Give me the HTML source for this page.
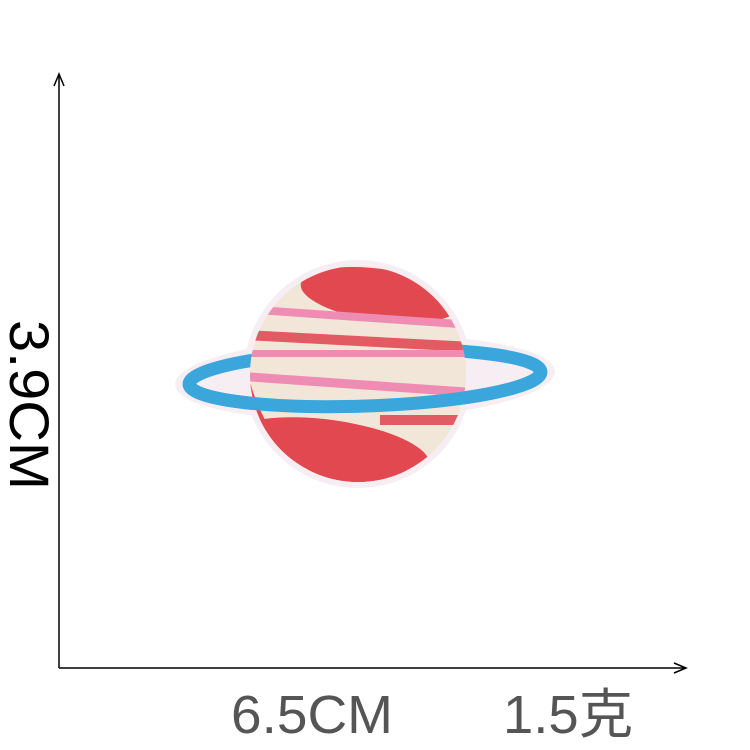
<!DOCTYPE html>
<html><head><meta charset="utf-8"><style>
html,body{margin:0;padding:0;background:#fff;width:750px;height:750px;overflow:hidden}
svg{display:block}
</style></head><body>
<svg width="750" height="750" viewBox="0 0 750 750">
<defs><clipPath id="pc"><circle cx="358" cy="374" r="108"/></clipPath></defs>
<g>
<line x1="59" y1="668" x2="59" y2="76" stroke="#000" stroke-width="1.5"/>
<path d="M54,86 L59,74 L64,86" fill="none" stroke="#000" stroke-width="1.5"/>
<line x1="59" y1="668" x2="684" y2="668" stroke="#000" stroke-width="1.5"/>
<path d="M674,663 L686,668 L674,673" fill="none" stroke="#000" stroke-width="1.5"/>
</g>
<g>
<ellipse cx="365" cy="378" rx="190" ry="42" fill="#f6eef2" transform="rotate(-2 365 378)"/>
<circle cx="358" cy="374" r="114" fill="#f6eef2"/>
<ellipse cx="365" cy="378" rx="176" ry="28" fill="none" stroke="#3aa6dc" stroke-width="13" transform="rotate(-2 365 378)"/>
<g clip-path="url(#pc)">
<rect x="240" y="260" width="240" height="230" fill="#f2e6d8"/>
<ellipse cx="380" cy="295" rx="80" ry="26" fill="#e2484f" transform="rotate(8 380 295)"/>
<rect x="240" y="313" width="240" height="8" fill="#ef8cb4" transform="rotate(4 358 317)"/>
<rect x="240" y="336" width="240" height="10" fill="#e25a62" transform="rotate(3 358 341)"/>
<rect x="240" y="350" width="240" height="7" fill="#ef8cb4"/>
<rect x="240" y="380" width="240" height="9" fill="#ef8cb4" transform="rotate(4 358 384)"/>
<ellipse cx="330" cy="450" rx="100" ry="30" fill="#e2484f" transform="rotate(8 330 450)"/>
<rect x="240" y="470" width="240" height="20" fill="#e2484f"/>
<path d="M245,360 Q255,420 300,470 L250,480 Z" fill="#e2484f"/>
<rect x="380" y="415" width="100" height="10" fill="#e25a62"/>
</g>
<path d="M189,378 A176,28 0 0 0 541,378" fill="none" stroke="#3aa6dc" stroke-width="13" transform="rotate(-2 365 378)"/>
</g>
<text x="0" y="0" transform="translate(10,320) rotate(90)" font-family="'Liberation Sans',sans-serif" font-size="56" textLength="170" lengthAdjust="spacingAndGlyphs" fill="#000">3.9CM</text>
<text x="231" y="733" font-family="'Liberation Sans',sans-serif" font-size="54" textLength="162" lengthAdjust="spacingAndGlyphs" fill="#555">6.5CM</text>
<text x="503" y="733" font-family="'Liberation Sans','Noto Sans CJK SC',sans-serif" font-size="54" textLength="130" lengthAdjust="spacingAndGlyphs" fill="#555">1.5克</text>
</svg>
</body></html>
